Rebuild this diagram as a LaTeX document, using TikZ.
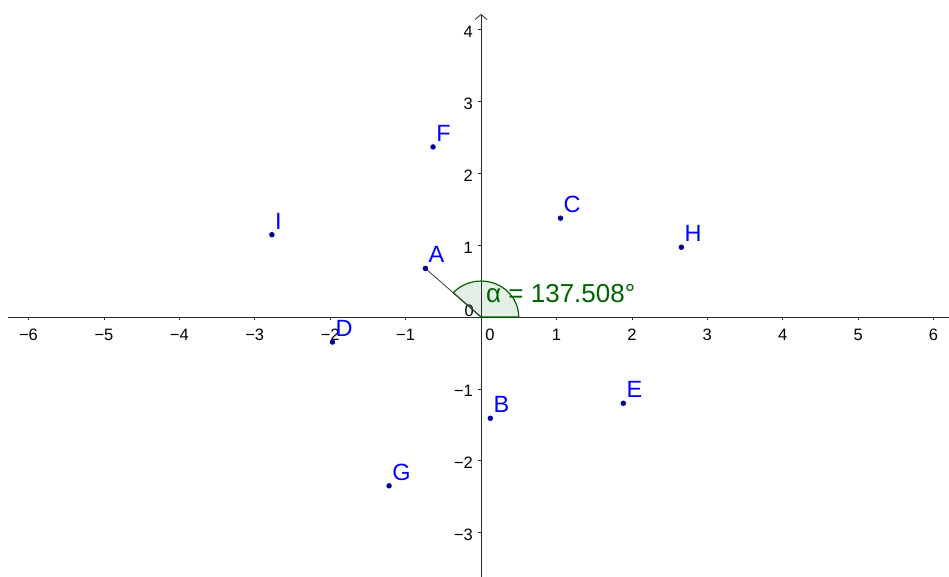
\documentclass[tikz,border=0pt]{standalone}
\usepackage{fontspec}
\setmainfont{Liberation Sans}
\usetikzlibrary{arrows.meta}
\definecolor{ptdot}{RGB}{0,0,153}
\definecolor{ptlab}{RGB}{0,0,255}
\definecolor{anggreen}{RGB}{0,100,0}
\definecolor{axisgray}{RGB}{40,40,40}
\definecolor{seggray}{RGB}{60,60,60}
\begin{document}
\begin{tikzpicture}[x=75.42pt, y=71.9pt,
  axisline/.style={axisgray, line width=0.8pt},
  tickmark/.style={axisgray, line width=0.7pt},
  ticklab/.style={font=\fontsize{16.5}{18}\selectfont, text=black, inner sep=0pt},
  ptdotstyle/.style={circle, fill=ptdot, inner sep=0pt, minimum size=5.5pt},
  ptlabel/.style={font=\fontsize{23.5}{26}\selectfont, text=ptlab, inner sep=0pt, anchor=base west},
  anglab/.style={font=\fontsize{26}{28}\selectfont, text=anggreen, inner sep=0pt, anchor=base west},
  sector/.style={draw=anggreen, line width=1.2pt, fill=anggreen, fill opacity=0.1, draw opacity=1},
  segline/.style={seggray, line width=0.8pt}
]
\useasboundingbox (-6.378,-3.616) rectangle (6.205,4.409);
% axes
\coordinate (O) at (0,0);
\coordinate (xs) at (-6.272,0);
\coordinate (xe) at (6.205,0);
\coordinate (ys) at (0,-3.616);
\coordinate (ye) at (0,4.214);
\draw[axisline] (xs) -- (xe);
\draw[axisline, -{Straight Barb[length=5pt,width=12pt]}] (ys) -- (ye);
% x ticks
\foreach \i/\t in {-6/−6,-5/−5,-4/−4,-3/−3,-2/−2,-1/−1,1/1,2/2,3/3,4/4,5/5,6/6} {
  \coordinate (xt\i) at (\i,0);
  \draw[tickmark] (xt\i) -- ++(0,-3pt);
  \node[ticklab, anchor=base] (xl\i) at ([yshift=-23pt]xt\i) {\t};
}
% y ticks
\foreach \j/\t in {-3/−3,-2/−2,-1/−1,1/1,2/2,3/3,4/4} {
  \coordinate (yt\j) at (0,\j);
  \draw[tickmark] (yt\j) -- ++(-3pt,0);
  \node[ticklab, anchor=base east] (yl\j) at ([xshift=-8pt,yshift=-8pt]yt\j) {\t};
}
\node[ticklab, anchor=base east] (y0) at ([xshift=-7pt,yshift=1pt]O) {0};
\node[ticklab, anchor=base] (x0) at ([xshift=9pt,yshift=-23pt]O) {0};
% points (golden-angle spiral)
\foreach \n/\nm in {1/A,2/B,3/C,4/D,5/E,6/F,7/G,8/H,9/I} {
  \coordinate (\nm) at ({sqrt(\n)*cos(\n*137.508)},{sqrt(\n)*sin(\n*137.508)});
}
% angle sector
\coordinate (a0) at (0.5,0);
\path[sector] (O) -- (a0) arc[start angle=0, end angle=137.508, x radius=0.5, y radius=0.5] -- cycle;
% segment
\draw[segline] (A) -- (O);
% dots and labels
\foreach \nm in {A,B,C,D,E,F,G,H,I} {
  \node[ptdotstyle] (\nm dot) at (\nm) {};
  \node[ptlabel] (\nm lab) at ([xshift=3pt,yshift=5.5pt]\nm) {\nm};
}
\node[anglab] (alpha) at ([xshift=5pt,yshift=15pt]O) {α = 137.508°};
\end{tikzpicture}
\end{document}
